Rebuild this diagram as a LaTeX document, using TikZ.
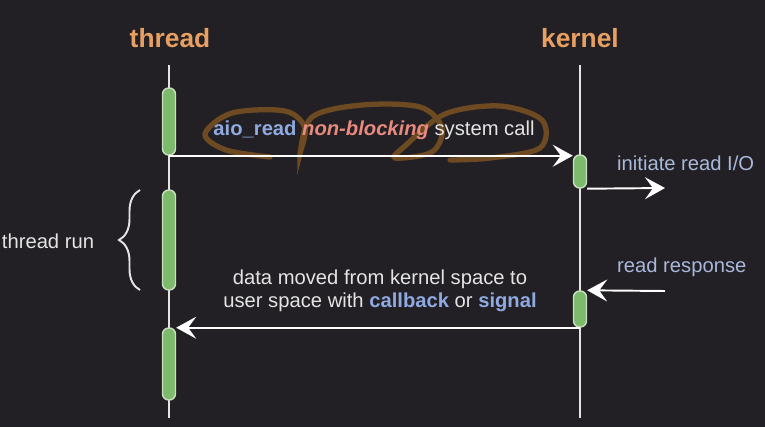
\documentclass[tikz,border=0pt]{standalone}
\usepackage{fontspec}
\setmainfont{Liberation Sans}
\usetikzlibrary{positioning, arrows.meta, decorations.pathreplacing}
\definecolor{bgdark}{HTML}{222024}
\definecolor{titleorange}{HTML}{E8A062}
\definecolor{callblue}{HTML}{8FAAE0}
\definecolor{noteblue}{HTML}{A9B8DA}
\definecolor{nbpink}{HTML}{E88A7E}
\definecolor{textwhite}{HTML}{E4E4E4}
\definecolor{barfill}{HTML}{7DBB6C}
\definecolor{barline}{HTML}{C9DEC2}
\definecolor{scribble}{HTML}{7B5222}

\begin{document}
\begin{tikzpicture}[
    x=0.02cm, y=-0.02cm,
    life/.style={draw=textwhite, line width=1.3pt},
    bar/.style={draw=barline, fill=barfill, line width=0.8pt, rounded corners=3.5pt,
      minimum width=0.26cm, inner sep=0pt},
    msg/.style={draw=white, line width=1.1pt, -{Stealth[length=4mm, width=4.4mm, inset=1.6mm]}},
    title/.style={font=\fontsize{15}{18}\selectfont\bfseries, text=titleorange},
    label/.style={font=\fontsize{11.5}{13}\selectfont, text=textwhite},
    note/.style={font=\fontsize{11.5}{13}\selectfont, text=noteblue}
  ]
    % background
    \fill[bgdark] (0,0) rectangle (765,427);
    \useasboundingbox (0,0) rectangle (765,427);
    % lifelines
    \node[title] (thread) at (170,38) {thread};
    \node[title] (kernel) at (580,38) {kernel};
    \coordinate (thrtop) at (169,65);
    \coordinate (thrbot) at (169,418);
    \coordinate (kertop) at (580,65);
    \coordinate (kerbot) at (580,418);
    \draw[life] (thrtop) -- (thrbot);
    \draw[life] (kertop) -- (kerbot);
    % activation bars
    \node[bar, minimum height=67*0.02cm] (tbar1) at (169,121.5) {};
    \node[bar, minimum height=100*0.02cm] (tbar2) at (169,240) {};
    \node[bar, minimum height=72*0.02cm] (tbar3) at (169,364) {};
    \node[bar, minimum height=33*0.02cm] (kbar1) at (580,171.5) {};
    \node[bar, minimum height=36*0.02cm] (kbar2) at (580,309) {};
    % hand drawn loops (under the text)
    \draw[scribble, line width=3pt, opacity=0.85, line cap=round]
      plot[smooth, tension=0.55] coordinates {(270,157) (226,150) (205,134) (232,113) (285,111) (305,128) (300,153) (312,117) (362,105) (420,107) (442,128) (432,152) (395,158) (405,146) (445,114) (500,106) (542,120) (540,148) (490,158) (450,160)};
    % system call
    \draw[msg] (tbar1.south) -- (tbar1.south -| kbar1.west);
    \node[label] (call) at (374,130) {{\color{callblue}\bfseries aio\_read} {\color{nbpink}\bfseries\itshape non-blocking} system call};
    % initiate read
    \coordinate (ioout) at (665,188);
    \draw[msg] (kbar1.south east) -- (ioout);
    \node[note, anchor=west] (initiate) at (611,163) {initiate read I/O};
    % read response
    \coordinate (ioin) at (665,291);
    \draw[msg] (ioin) -- (kbar2.north east);
    \node[note, anchor=west] (response) at (611,267) {read response};
    % data back to thread
    \draw[msg] (kbar2.south) -- (kbar2.south -| tbar3.east);
    \node[label, align=center] (moved) at (380,291) {data moved from kernel space to\\user space with {\color{callblue}\bfseries callback} or {\color{callblue}\bfseries signal}};
    % thread run
    \coordinate (bracelo) at (140,290);
    \coordinate (bracehi) at (140,190);
    \draw[textwhite, line width=1.1pt, decorate, decoration={brace, amplitude=0.42cm}] (bracelo) -- (bracehi);
    \node[label] (run) at (48,241) {thread run};
  \end{tikzpicture}
\end{document}
